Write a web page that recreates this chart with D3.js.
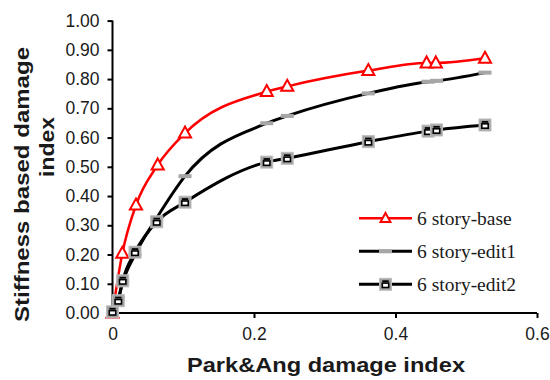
<!DOCTYPE html>
<html>
<head>
<meta charset="utf-8">
<script src="https://cdn.jsdelivr.net/npm/d3@7"></script>
<style>
  html, body { margin: 0; padding: 0; background: #fff; }
  svg { display: block; }
</style>
</head>
<body>
<svg id="chart" width="550" height="380"></svg>
<script>
// Park&Ang damage index (x) vs stiffness based damage index (y)
const seriesNames = ["6 story-base", "6 story-edit1", "6 story-edit2"];

const baseX  = [0, 0.0139, 0.0332, 0.0639, 0.1025, 0.218, 0.247, 0.3616, 0.444, 0.457, 0.5265];
const baseY  = [0, 0.204, 0.369, 0.506, 0.615, 0.757, 0.775, 0.829, 0.855, 0.855, 0.871];

const edit1X = [0, 0.0082, 0.0144, 0.0318, 0.0625, 0.1025, 0.218, 0.247, 0.3616, 0.446, 0.458, 0.5265];
const edit1Y = [0, 0.050, 0.105, 0.200, 0.325, 0.468, 0.649, 0.674, 0.751, 0.791, 0.794, 0.822];

const edit2X = [0, 0.0082, 0.0144, 0.0318, 0.0625, 0.1025, 0.218, 0.247, 0.3616, 0.446, 0.458, 0.5265];
const edit2Y = [0.004, 0.042, 0.110, 0.208, 0.312, 0.379, 0.516, 0.529, 0.586, 0.622, 0.626, 0.643];

const xTicks = [0, 0.2, 0.4, 0.6];
const yTicks = [0, 0.1, 0.2, 0.3, 0.4, 0.5, 0.6, 0.7, 0.8, 0.9, 1.0];

const svg = d3.select("#chart");
const x = d3.scaleLinear().domain([0, 0.6]).range([112.5, 537]);
const y = d3.scaleLinear().domain([0, 1]).range([313, 20.6]);

const textColor = "#1a1a1a";
const sans = "'Liberation Sans', Arial, sans-serif";
const serif = "'Liberation Serif', 'Times New Roman', serif";

// Axes
const yAxis = svg.append("g")
  .attr("transform", `translate(${x(0)},0)`)
  .call(d3.axisLeft(y).tickValues(yTicks).tickSize(5).tickPadding(8).tickFormat(d3.format(".2f")));
const xAxis = svg.append("g")
  .attr("transform", `translate(0,${y(0)})`)
  .call(d3.axisBottom(x).tickValues(xTicks).tickSize(5).tickPadding(10).tickFormat(d => d === 0 ? "0" : d3.format(".1f")(d)));

[yAxis, xAxis].forEach(g => {
  g.select(".domain").attr("stroke", "#000").attr("stroke-width", 2);
  g.selectAll(".tick line").attr("stroke", "#000").attr("stroke-width", 2);
  g.selectAll(".tick text").attr("fill", textColor)
    .style("font-family", sans).style("font-size", "17.5px");
});
// domain lines without end caps
yAxis.select(".domain").attr("d", `M0,${y(1)}V${y(0)}`);
xAxis.select(".domain").attr("d", `M${x(0)},0H${x(0.6)}`);
yAxis.selectAll(".tick").filter(d => d === 0).select("line").remove();
xAxis.selectAll(".tick").filter(d => d === 0).select("line").remove();

// Axis titles
svg.append("text")
  .attr("x", 326).attr("y", 372)
  .attr("text-anchor", "middle")
  .attr("textLength", 278).attr("lengthAdjust", "spacingAndGlyphs")
  .style("font-family", sans).style("font-weight", "bold").style("font-size", "21px")
  .attr("fill", textColor)
  .text("Park&Ang damage index");

svg.append("text")
  .attr("transform", "translate(28.5,184.5) rotate(-90)")
  .attr("text-anchor", "middle")
  .attr("textLength", 275).attr("lengthAdjust", "spacingAndGlyphs")
  .style("font-family", sans).style("font-weight", "bold").style("font-size", "21px")
  .attr("fill", textColor)
  .text("Stiffness based damage");

svg.append("text")
  .attr("transform", "translate(53.5,147) rotate(-90)")
  .attr("text-anchor", "middle")
  .attr("textLength", 60).attr("lengthAdjust", "spacingAndGlyphs")
  .style("font-family", sans).style("font-weight", "bold").style("font-size", "21px")
  .attr("fill", textColor)
  .text("index");

// Marker drawers
function triangle(g, cx, cy, s) {
  g.append("path")
    .attr("d", `M${cx},${cy - s * 0.6}L${cx + s * 0.55},${cy + s * 0.4}L${cx - s * 0.55},${cy + s * 0.4}Z`)
    .attr("fill", "#fff").attr("stroke", "#ff0000").attr("stroke-width", 2);
}
function dash(g, cx, cy) {
  g.append("rect").attr("x", cx - 6.5).attr("y", cy - 2).attr("width", 13).attr("height", 4)
    .attr("fill", "#a6a6a6");
}
function square(g, cx, cy) {
  g.append("rect").attr("x", cx - 6).attr("y", cy - 6).attr("width", 12).attr("height", 12)
    .attr("fill", "#a3a3a3").attr("stroke", "#bdbdbd").attr("stroke-width", 1);
  g.append("rect").attr("x", cx - 3.2).attr("y", cy - 4).attr("width", 6.4).attr("height", 1.8).attr("fill", "#000");
  g.append("rect").attr("x", cx - 3.2).attr("y", cy - 1.2).attr("width", 6.4).attr("height", 4.4)
    .attr("fill", "#fff").attr("stroke", "#000").attr("stroke-width", 1.6);
}

const series = [
  { xs: baseX,  ys: baseY,  color: "#ff0000", width: 2.5, marker: (g, cx, cy) => triangle(g, cx, cy, 11) },
  { xs: edit1X, ys: edit1Y, color: "#000",    width: 3,   marker: dash },
  { xs: edit2X, ys: edit2Y, color: "#000",    width: 3,   marker: square }
];

const line = d3.line().x(d => x(d[0])).y(d => y(d[1])).curve(d3.curveMonotoneX);

series.forEach(s => {
  const pts = s.xs.map((v, i) => [v, s.ys[i]]);
  const g = svg.append("g");
  g.append("path").attr("d", line(pts))
    .attr("fill", "none").attr("stroke", s.color).attr("stroke-width", s.width)
    .attr("stroke-linejoin", "round");
  pts.forEach(p => s.marker(g, x(p[0]), y(p[1])));
});

// Legend
const legend = svg.append("g");
series.forEach((s, i) => {
  const ly = 218.3 + i * 33;
  const g = legend.append("g");
  g.append("line").attr("x1", 359).attr("x2", 412).attr("y1", ly).attr("y2", ly)
    .attr("stroke", s.color).attr("stroke-width", s.width);
  if (i === 0) triangle(g, 385.5, ly, 9);
  else s.marker(g, 385.5, ly);
  g.append("text").attr("x", 417).attr("y", ly + 6.7)
    .style("font-family", serif).style("font-size", "19.5px")
    .attr("fill", textColor)
    .text(seriesNames[i]);
});
</script>
</body>
</html>
